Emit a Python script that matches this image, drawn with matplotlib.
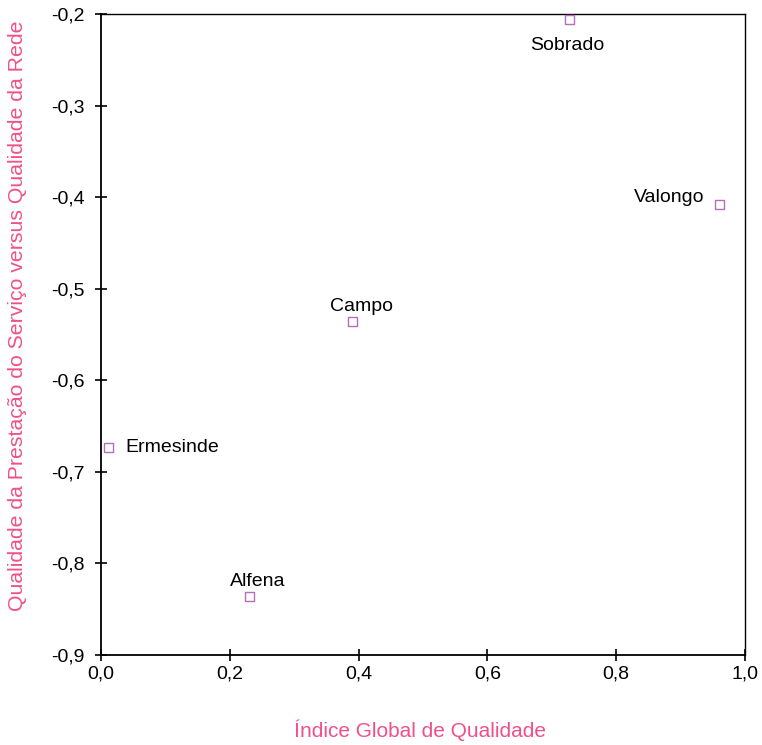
import matplotlib.pyplot as plt
from matplotlib.ticker import FuncFormatter

plt.rcParams['font.family'] = ['Liberation Sans', 'DejaVu Sans']

names = ["Sobrado", "Valongo", "Campo", "Ermesinde", "Alfena"]
x_vals = [0.728, 0.961, 0.390, 0.012, 0.231]
y_vals = [-0.206, -0.408, -0.536, -0.673, -0.836]

# label offsets in points and alignment
offsets = [(-2, -19, "center"), (-11, 5, "right"), (6.5, 11, "center"),
           (12, 0, "left"), (6, 11, "center")]

fig = plt.figure(figsize=(7.62, 7.45), dpi=100)
ax = fig.add_axes([0.1325, 0.1208, 0.8452, 0.8604])

ax.scatter(x_vals, y_vals, marker="s", s=40, facecolors="none",
           edgecolors="#b86cbc", linewidths=1.0, zorder=3, clip_on=False)

for n, x, y, (dx, dy, ha) in zip(names, x_vals, y_vals, offsets):
    ax.annotate(n, (x, y), xytext=(dx, dy), textcoords="offset points",
                ha=ha, va="center", fontsize=14)

ax.set_xlim(0, 1.0)
ax.set_ylim(-0.9, -0.2)
ax.set_xticks([0, 0.2, 0.4, 0.6, 0.8, 1.0])
ax.set_yticks([-0.9, -0.8, -0.7, -0.6, -0.5, -0.4, -0.3, -0.2])
fmt = FuncFormatter(lambda v, p: f"{v:.1f}".replace(".", ","))
ax.xaxis.set_major_formatter(fmt)
ax.yaxis.set_major_formatter(fmt)
ax.tick_params(direction="inout", length=8, width=1.2, labelsize=14)
ax.tick_params(axis="y", pad=8)

for s in ax.spines.values():
    s.set_linewidth(1.0)
ax.spines["left"].set_linewidth(1.3)
ax.spines["bottom"].set_linewidth(1.3)

pink = "#f0508a"
ax.set_xlabel("Índice Global de Qualidade", color=pink, fontsize=15)
ax.set_ylabel("Qualidade da Prestação do Serviço versus Qualidade da Rede",
              color=pink, fontsize=15.3)
ax.xaxis.set_label_coords(0.495, -0.117)
ax.yaxis.set_label_coords(-0.129, 0.530)
ax.xaxis.label.set_va("center")
ax.yaxis.label.set_va("center")

fig.savefig("out.png", dpi=100)
